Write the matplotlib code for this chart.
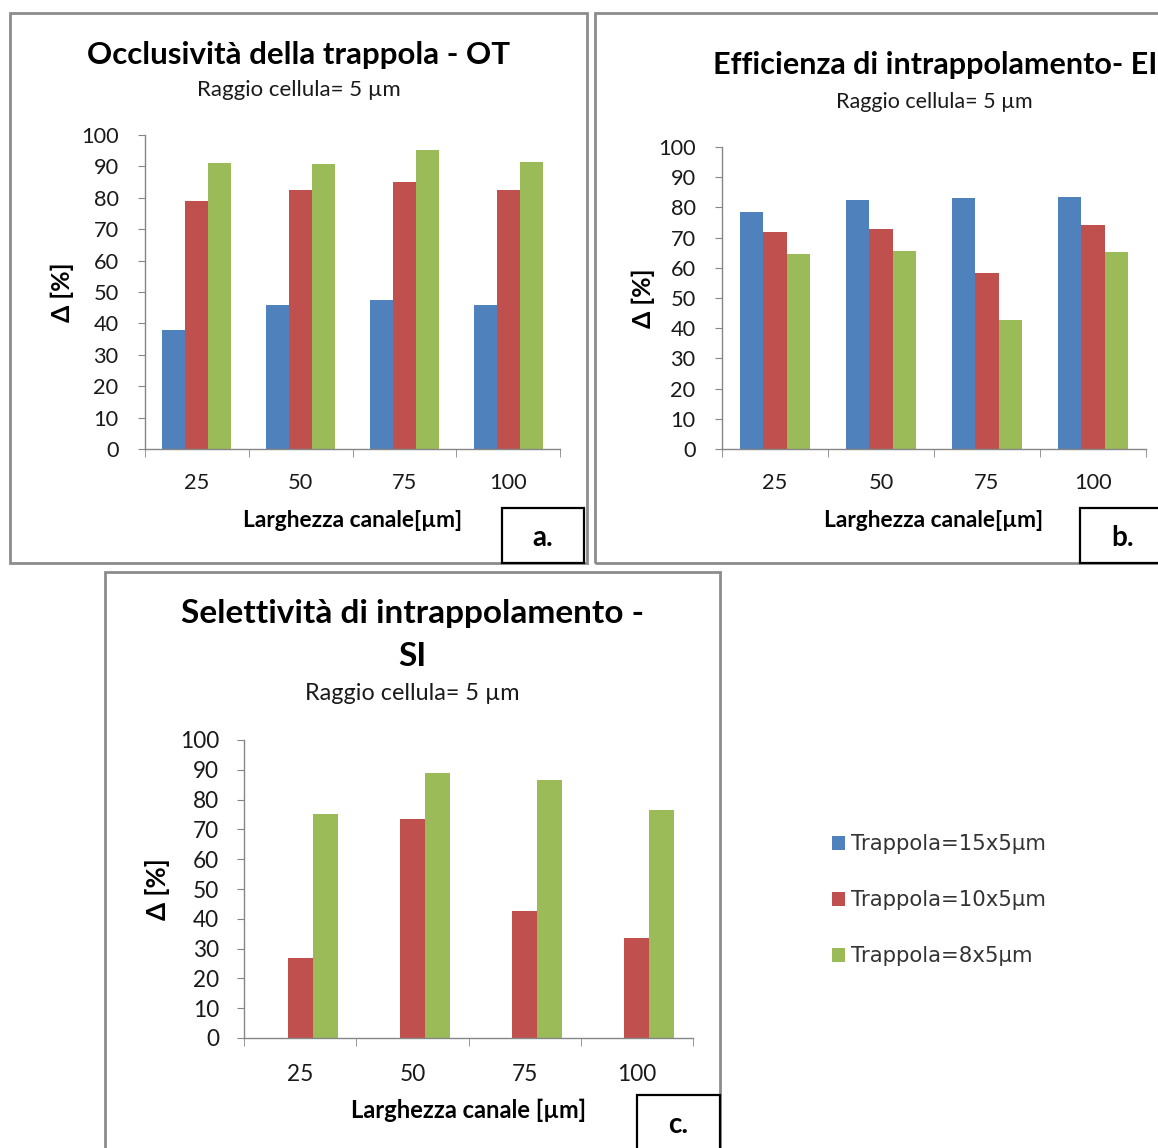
import numpy as np
import matplotlib
matplotlib.use("Agg")
import matplotlib.pyplot as plt
from matplotlib.patches import Rectangle
from matplotlib.font_manager import FontProperties

# ---- data ----
categories = ["25", "50", "75", "100"]
series_names = ["Trappola=15x5µm", "Trappola=10x5µm", "Trappola=8x5µm"]

ot_15x5 = [38.0, 46.0, 47.5, 46.0]
ot_10x5 = [79.0, 82.5, 85.0, 82.5]
ot_8x5 = [91.2, 90.9, 95.3, 91.5]

ei_15x5 = [78.5, 82.4, 83.2, 83.5]
ei_10x5 = [71.8, 72.9, 58.3, 74.1]
ei_8x5 = [64.6, 65.4, 42.6, 65.1]

si_15x5 = [0.0, 0.0, 0.0, 0.0]
si_10x5 = [27.0, 73.6, 42.6, 33.6]
si_8x5 = [75.2, 89.0, 86.6, 76.4]

yticks = [0, 10, 20, 30, 40, 50, 60, 70, 80, 90, 100]

# ---- style ----
W, H = 1158, 1148
COLORS = ["#4F81BD", "#C0504D", "#9BBB59"]
AXIS_GRAY = "#868686"
PANEL_GRAY = "#8c8c8c"
TXT = "#1a1a1a"
FONT = ["Lato", "DejaVu Sans"]
plt.rcParams["font.family"] = FONT

fig = plt.figure(figsize=(W / 100, H / 100), dpi=100)
fig.patch.set_facecolor("white")


def fx(x):
    return x / W


def fy(y):
    return 1 - y / H


def panel_box(x0, y0, x1, y1, color=PANEL_GRAY, lw=2.0):
    fig.add_artist(Rectangle((fx(x0), fy(y1)), (x1 - x0) / W, (y1 - y0) / H,
                             transform=fig.transFigure, fill=False,
                             edgecolor=color, linewidth=lw))


def label_box(x0, y0, x1, y1, text):
    fig.add_artist(Rectangle((fx(x0), fy(y1)), (x1 - x0) / W, (y1 - y0) / H,
                             transform=fig.transFigure, facecolor="white",
                             edgecolor="black", linewidth=1.6))
    fig.text(fx((x0 + x1) / 2), fy(y0 + 30), text, ha="center", va="center",
             fontsize=20, fontweight="bold", color="black")


def bar_panel(rect, data, xlabel, ylabel_x, xlabel_y, tick_fs, lab_fs,
              xpad, ypad):
    l, r, t, b = rect
    ax = fig.add_axes([fx(l), fy(b), (r - l) / W, (b - t) / H])
    x = np.arange(len(categories))
    w = 1 / 4.5
    containers = []
    for i, vals in enumerate(data):
        c = ax.bar(x + (i - 1) * w, vals, width=w, color=COLORS[i],
                   linewidth=0, label=series_names[i])
        containers.append(c)
    ax.set_xlim(-0.5, len(categories) - 0.5)
    ax.set_ylim(0, 100)
    ax.set_yticks(yticks)
    ax.set_xticks(x)
    ax.set_xticklabels(categories)
    ax.set_xticks(np.arange(len(categories) + 1) - 0.5, minor=True)
    for s in ["top", "right"]:
        ax.spines[s].set_visible(False)
    for s in ["left", "bottom"]:
        ax.spines[s].set_color(AXIS_GRAY)
        ax.spines[s].set_linewidth(1.0)
    ax.tick_params(axis="x", which="major", length=0, pad=xpad,
                   labelsize=tick_fs, labelcolor=TXT)
    ax.tick_params(axis="x", which="minor", length=6, color=AXIS_GRAY,
                   direction="out")
    ax.tick_params(axis="y", length=5, color=AXIS_GRAY, direction="out",
                   pad=ypad, labelsize=tick_fs, labelcolor=TXT)
    ax.set_facecolor("white")
    # axis titles placed in figure pixel positions
    fig.text(fx(ylabel_x), fy((t + b) / 2), "Δ [%]", rotation=90,
             ha="center", va="center", fontsize=lab_fs + 1.5,
             fontweight="bold", color="black")
    fig.text(fx((l + r) / 2), fy(xlabel_y), xlabel, ha="center",
             va="center", fontsize=lab_fs, fontweight="bold", color="black")
    return ax, containers


# ---- panel a ----
panel_box(10, 13, 587, 563)
fig.text(fx(298.5), fy(55), "Occlusività della trappola - OT", ha="center",
         va="center", fontsize=22.5, fontweight="bold", color="black")
fig.text(fx(298.5), fy(90), "Raggio cellula= 5 µm", ha="center",
         va="center", fontsize=16, color=TXT)
ax_a, handles = bar_panel((145, 560, 135, 449), [ot_15x5, ot_10x5, ot_8x5],
                          "Larghezza canale[µm]", 62, 520, 15.7, 16.4,
                          17, 14)
label_box(502, 508, 584, 563, "a.")

# ---- panel b ----
panel_box(595, 13, 1200, 563)
fig.text(fx(935), fy(65), "Efficienza di intrappolamento- EI", ha="center",
         va="center", fontsize=22, fontweight="bold", color="black")
fig.text(fx(934), fy(102), "Raggio cellula= 5 µm", ha="center",
         va="center", fontsize=15.5, color=TXT)
bar_panel((722, 1146, 147, 449), [ei_15x5, ei_10x5, ei_8x5],
          "Larghezza canale[µm]", 643, 520, 15.7, 16.4, 17, 14)
label_box(1080, 508, 1165, 563, "b.")

# ---- panel c ----
panel_box(105, 572, 720, 1200)
fig.text(fx(412.5), fy(614), "Selettività di intrappolamento -", ha="center",
         va="center", fontsize=24, fontweight="bold", color="black")
fig.text(fx(412.5), fy(657), "SI", ha="center", va="center", fontsize=24,
         fontweight="bold", color="black")
fig.text(fx(412.5), fy(693), "Raggio cellula= 5 µm", ha="center",
         va="center", fontsize=16.8, color=TXT)
bar_panel((244, 693, 740, 1038), [si_15x5, si_10x5, si_8x5],
          "Larghezza canale [µm]", 158, 1110, 16.3, 17.1, 19, 13)
label_box(637, 1095, 720, 1160, "c.")

# ---- shared legend ----
leg = fig.legend(handles=handles, labels=series_names,
                 loc="upper left", bbox_to_anchor=(fx(813), fy(815)),
                 frameon=False, handlelength=0.62, handleheight=0.62,
                 handletextpad=0.25, labelspacing=1.7,
                 prop=FontProperties(family="DejaVu Sans", size=15.3))
for t in leg.get_texts():
    t.set_color("#333333")

fig.savefig("out.png", dpi=100, facecolor="white")
